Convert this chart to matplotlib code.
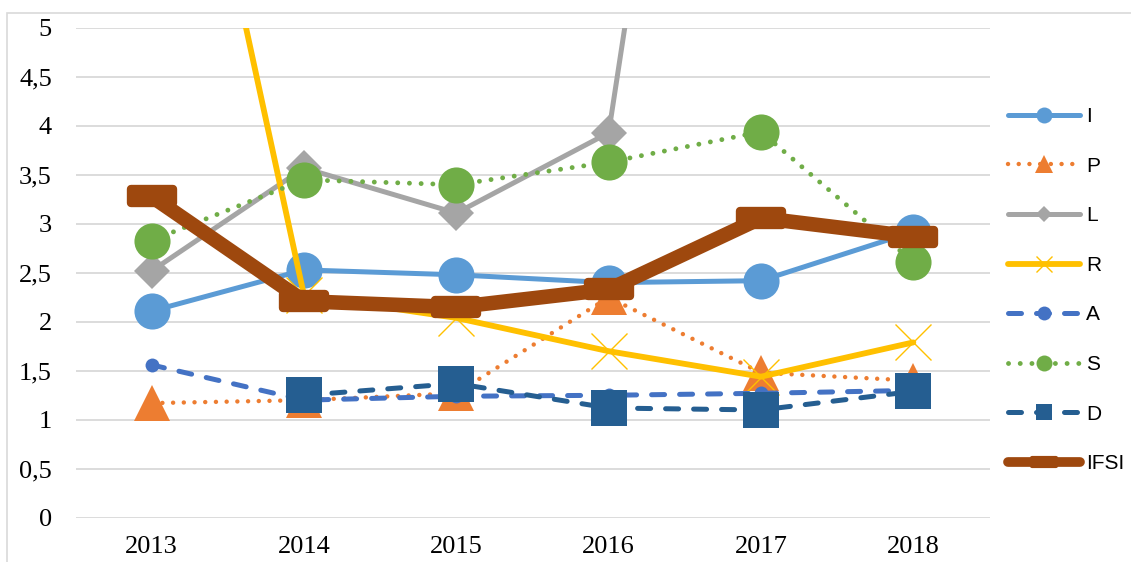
import numpy as np
import matplotlib
matplotlib.use("Agg")
import matplotlib.pyplot as plt
from matplotlib.lines import Line2D
from matplotlib.markers import MarkerStyle
from matplotlib.path import Path
from matplotlib.patches import Rectangle

years = ['2013', '2014', '2015', '2016', '2017', '2018']
y_ticks = [0, 0.5, 1, 1.5, 2, 2.5, 3, 3.5, 4, 4.5, 5]
y_labels = ['0', '0,5', '1', '1,5', '2', '2,5', '3', '3,5', '4', '4,5', '5']

I = [2.11, 2.53, 2.48, 2.40, 2.42, 2.92]
P = [1.17, 1.20, 1.27, 2.25, 1.48, 1.40]
L = [2.52, 3.57, 3.11, 3.93, 14.1, 10.0]
R = [9.45, 2.27, 2.04, 1.70, 1.44, 1.79]
A = [1.56, 1.20, 1.24, 1.25, 1.27, 1.30]
S = [2.83, 3.45, 3.40, 3.63, 3.94, 2.61]
D = [np.nan, 1.25, 1.37, 1.12, 1.10, 1.29]
IFSI = [3.28, 2.21, 2.15, 2.33, 3.06, 2.87]

# rounded wide box used as IFSI marker
box = Path([(-1, -0.32), (1, -0.32), (1, 0.32), (-1, 0.32), (-1, -0.32)],
           [Path.MOVETO, Path.LINETO, Path.LINETO, Path.LINETO, Path.CLOSEPOLY])
box_marker = MarkerStyle(box, joinstyle='round')

dash = (0, (2.6, 3.0))
dots = (0, (0.01, 2.4))

# name, values, color, lw, linestyle, marker, ms, mew, legend ms
series = [
    ('I', I, '#5B9BD5', 3.6, '-', 'o', 26, 0, 11.5),
    ('P', P, '#ED7D31', 3.2, dots, '^', 26, 0, 13),
    ('L', L, '#A5A5A5', 3.6, '-', 'D', 18, 0, 8),
    ('R', R, '#FFC000', 4.2, '-', 'x', 26, 1.0, 12),
    ('A', A, '#4472C4', 3.6, dash, 'o', 10, 0, 10),
    ('S', S, '#70AD47', 3.5, dots, 'o', 26, 0, 11.5),
    ('D', D, '#255E91', 3.6, dash, 's', 26, 0, 11),
    ('IFSI', IFSI, '#9E480E', 10.5, '-', box_marker, 30, 6, 17),
]

fig = plt.figure(figsize=(11.31, 5.62), dpi=100)
ax = fig.add_axes([75.5 / 1131, 1 - 517.7 / 562, 914 / 1131, 489.7 / 562])

x = np.arange(len(years))
handles = []
for k, (name, vals, col, lw, ls, mk, ms, mew, lms) in enumerate(series):
    ax.plot(x, vals, color=col, lw=lw, linestyle=ls, marker=mk, markersize=ms,
            markerfacecolor=col, markeredgecolor=col, markeredgewidth=mew,
            dash_capstyle='round', solid_capstyle='round',
            solid_joinstyle='round', zorder=3 + k)
    handles.append(Line2D([], [], color=col, lw=lw if name != 'IFSI' else 7,
                          linestyle=ls, marker=mk, markersize=lms,
                          markerfacecolor=col, markeredgecolor=col,
                          markeredgewidth=mew if name != 'IFSI' else 3,
                          dash_capstyle='round', solid_capstyle='round',
                          label=name))

ax.set_xlim(-0.5, 5.5)
ax.set_ylim(0, 5)
ax.set_xticks(x)
ax.set_xticklabels(years)
ax.set_yticks(y_ticks)
ax.set_yticklabels(y_labels)
for lab in ax.get_xticklabels() + ax.get_yticklabels():
    lab.set_fontfamily('Liberation Serif')
    lab.set_fontsize(19)
ax.tick_params(axis='both', length=0)
ax.tick_params(axis='y', pad=17)
ax.tick_params(axis='x', pad=13)
ax.grid(axis='y', color='#D9D9D9', lw=1.3)
ax.set_axisbelow(True)
for sp in ax.spines.values():
    sp.set_visible(False)

leg = fig.legend(handles=handles, loc='upper left',
                 bbox_to_anchor=(1008 / 1131, 1 - 107 / 562),
                 frameon=False, prop={'family': 'Liberation Sans', 'size': 15},
                 handlelength=3.45, handletextpad=0.3, labelspacing=1.47,
                 borderpad=0, borderaxespad=0)

# light chart border
fig.patches.append(Rectangle((7 / 1131, -0.2), 2, 1.2 - 13 / 562,
                             transform=fig.transFigure, fill=False,
                             edgecolor='#D9D9D9', lw=1.2))

fig.savefig('out.png', dpi=100)
